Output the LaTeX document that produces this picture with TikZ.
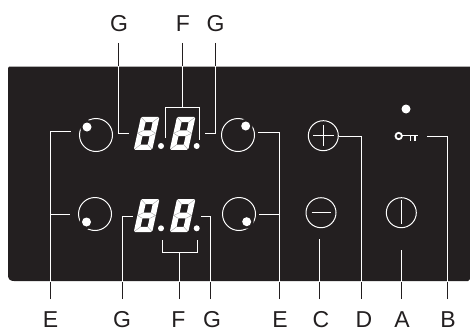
\documentclass[tikz,border=0pt]{standalone}
\usepackage{fontspec}
\setmainfont{Liberation Sans}
\definecolor{panelc}{HTML}{231F20}
\tikzset{
  lab/.style={anchor=base,inner sep=0pt,text=panelc,font=\fontsize{23}{23}\selectfont},
  leadline/.style={line width=1pt,line join=miter},
  ring/.style={draw=white,line width=1pt,circle,minimum size=30pt,inner sep=0pt},
  wdot/.style={fill=white,circle,inner sep=0pt},
  sym/.style={draw=white,line width=1pt},
}
\newcommand\lead[1]{%
  \draw[leadline,panelc] #1;
  \begin{scope}
    \clip (8,66.5) rectangle (470,281);
    \draw[leadline,white] #1;
  \end{scope}}
\newcommand\segdigit[2]{%
  \begin{scope}[shift={(#1,#2)},xslant=0.22]
    \fill[white,even odd rule]
      (1.5,0) -- (17,0) -- (18.5,1.5) -- (18.5,31.5) -- (17,33) -- (1.5,33) -- (0,31.5) -- (0,1.5) -- cycle
      (5.7,5.2) -- (12.8,5.2) -- (12.8,13.6) -- (5.7,13.6) -- cycle
      (5.7,19.4) -- (12.8,19.4) -- (12.8,27.8) -- (5.7,27.8) -- cycle;
    \draw[black!40,line width=0.35pt]
      (0.5,0.5) -- (5.7,5.2) (18,0.5) -- (12.8,5.2)
      (0.5,32.5) -- (5.7,27.8) (18,32.5) -- (12.8,27.8)
      (5.7,13.6) -- (0.2,16.5) -- (5.7,19.4) (12.8,13.6) -- (18.3,16.5) -- (12.8,19.4);
  \end{scope}}
\begin{document}
\begin{tikzpicture}[x=1pt,y=-1pt]
\useasboundingbox (0,0) rectangle (470,329);
% panel
\fill[panelc] (10,66.5) -- (470,66.5) -- (470,279) -- (468,281) -- (14,281) .. controls (10,281) and (8,279) .. (8,275) -- (8,68.5) .. controls (8,67) and (9,66.5) .. (10,66.5) -- cycle;
% labels
\node[lab] (lG1) at (119,31.7) {G};
\node[lab] (lF1) at (183,31.7) {F};
\node[lab] (lG2) at (215.5,31.7) {G};
\node[lab] (lE1) at (50.5,327.3) {E};
\node[lab] (lG3) at (122,327.3) {G};
\node[lab] (lF2) at (178.5,327.3) {F};
\node[lab] (lG4) at (212,327.3) {G};
\node[lab] (lE2) at (280,327.3) {E};
\node[lab] (lC) at (321,327.3) {C};
\node[lab] (lD) at (364,327.3) {D};
\node[lab] (lA) at (402,327.3) {A};
\node[lab] (lB) at (448,327.3) {B};
% digits
\segdigit{141}{116.8}
\segdigit{177}{116.8}
\segdigit{141}{199}
\segdigit{177}{199}
\node[wdot,minimum size=6pt] (p1) at (161,146) {};
\node[wdot,minimum size=6pt] (p2) at (196.7,146) {};
\node[wdot,minimum size=6pt] (p3) at (161,228.3) {};
\node[wdot,minimum size=6pt] (p4) at (196.7,228.3) {};
% zone rings
\draw[sym] (96,135) circle[radius=16.5];
\draw[sym] (95,214) circle[radius=16.5];
\draw[sym] (238,135) circle[radius=16.5];
\draw[sym] (239,214) circle[radius=16.5];
\fill[panelc] (87,127) circle[radius=7];
\fill[panelc] (86.5,222) circle[radius=7];
\fill[panelc] (245.7,126) circle[radius=7];
\fill[panelc] (246.7,221.7) circle[radius=7];
\node[wdot,minimum size=9pt] (d1) at (87,127) {};
\node[wdot,minimum size=9pt] (d2) at (86.5,222) {};
\node[wdot,minimum size=9pt] (d3) at (245.7,126) {};
\node[wdot,minimum size=9pt] (d4) at (246.7,221.7) {};
% control buttons
\node[ring] (plus) at (323.3,135.7) {};
\draw[sym] (313,135.7) -- (333.6,135.7) (323.3,125.4) -- (323.3,146);
\node[ring] (minus) at (321,212.7) {};
\draw[sym] (311.5,212.7) -- (330.5,212.7);
\node[ring] (power) at (401.3,212.7) {};
\draw[sym] (401.3,200) -- (401.3,224);
% key and indicator
\node[wdot,minimum size=9pt] (led) at (406,109) {};
\draw[white,line width=1.8pt] (398.7,136) circle[radius=3.2];
\draw[white,line width=1.8pt] (402,135.5) -- (417.5,135.5);
\draw[white,line width=1.8pt] (410.5,135.5) -- (410.5,140.5) (415,135.5) -- (415,140.5);
% leaders
\coordinate (a1) at (118,43); \coordinate (a2) at (118,133); \coordinate (a3) at (128.5,133);
\lead{(a1) -- (a2) -- (a3)}
\coordinate (b1) at (182,43); \coordinate (b2) at (182,107.5);
\coordinate (b3) at (165,138); \coordinate (b4) at (165,107.5); \coordinate (b5) at (199,107.5); \coordinate (b6) at (199,140);
\lead{(b1) -- (b2)}
\lead{(b3) -- (b4) -- (b5) -- (b6)}
\coordinate (c1) at (215,43); \coordinate (c2) at (215,133.5); \coordinate (c3) at (205,133.5);
\lead{(c1) -- (c2) -- (c3)}
\coordinate (e1) at (50,299); \coordinate (e2) at (50,131.5); \coordinate (e3) at (71,131.5);
\coordinate (e4) at (50,214.5); \coordinate (e5) at (70,214.5);
\lead{(e1) -- (e2) -- (e3)}
\lead{(e4) -- (e5)}
\coordinate (g1) at (122,299); \coordinate (g2) at (122,216.7); \coordinate (g3) at (133,216.7);
\lead{(g1) -- (g2) -- (g3)}
\coordinate (f1) at (179,299); \coordinate (f2) at (179,252.7);
\coordinate (f3) at (162,240); \coordinate (f4) at (162,252.7); \coordinate (f5) at (197,252.7); \coordinate (f6) at (197,240);
\lead{(f1) -- (f2)}
\lead{(f3) -- (f4) -- (f5) -- (f6)}
\coordinate (h1) at (210,299); \coordinate (h2) at (210,216.7); \coordinate (h3) at (201,216.7);
\lead{(h1) -- (h2) -- (h3)}
\coordinate (i1) at (279,299); \coordinate (i2) at (279,132); \coordinate (i3) at (258,132);
\coordinate (i4) at (279,214.5); \coordinate (i5) at (259,214.5);
\lead{(i1) -- (i2) -- (i3)}
\lead{(i4) -- (i5)}
\coordinate (j1) at (319.7,299); \coordinate (j2) at (319.7,239);
\lead{(j1) -- (j2)}
\coordinate (k1) at (361,299); \coordinate (k2) at (361,136.5);
\lead{(k1) -- (k2) -- (plus.east |- k2)}
\coordinate (m1) at (401.5,299); \coordinate (m2) at (401.5,250);
\lead{(m1) -- (m2)}
\coordinate (n1) at (447.7,299); \coordinate (n2) at (447.7,136); \coordinate (n3) at (426.7,136);
\lead{(n1) -- (n2) -- (n3)}
\end{tikzpicture}
\end{document}
